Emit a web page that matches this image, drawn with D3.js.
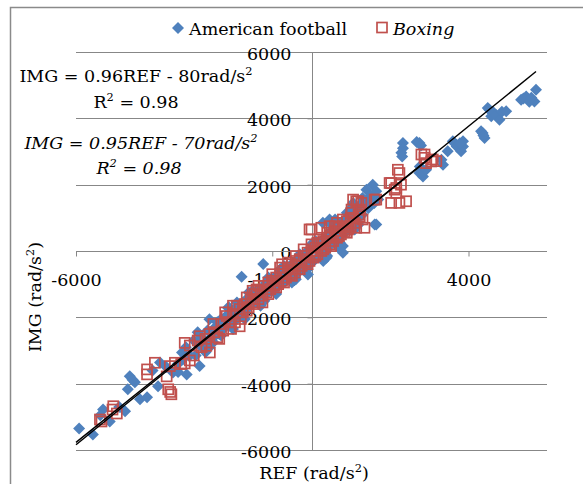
<!DOCTYPE html>
<html>
<head>
<meta charset="utf-8">
<script src="https://cdn.jsdelivr.net/npm/d3@7"></script>
<style>
  html, body { margin: 0; padding: 0; background: #fff; }
  svg { display: block; font-family: "DejaVu Serif", serif; }
</style>
</head>
<body>
<svg id="chart" width="583" height="484"></svg>
<script>
// Angular acceleration: reference sensor (REF) vs. image-based estimate (IMG)
const footballRef = [
  -5920, -5570, -5310, -5140, -5380, -4750, -4900, -4630, -4500, -4680, -4370, -4190, -3910, -3860, -3530, -3300, -3180, -3280, -4560, -4050, -3700, -3400, -3100,
  -3000, -2950, -2900, -2850, -2800, -2760, -2700, -2650, -2600, -2560, -2500, -2450, -2400, -2350, -2300, -2250, -2200, -2170, -2130, -2100, -2050, -2000,
  -1950, -1900, -1850, -1800, -1780, -1750, -1700, -1650, -1600, -1550, -1500, -1450, -1400, -1350, -1300, -1250, -1230, -1200, -1150, -1100, -1050, -1000,
  -950, -900, -850, -800, -750, -700, -650, -600, -550, -500, -450, -400, -350, -300, -250, -200, -150, -100, -90, -50, 0, 50, 100, 150, 200, 250, 290, 300,
  350, 380, 400, 450, 460, 500, 550, 600, 650, 700, 720, 750, 800, 800, 850, 900, 950, 1000, 1050, 1060, 1100, 1150, 1200, 1250, 1300, 1350, 1400, 1450,
  1500, 1560, 1610, 1650, 1600, 1650, 1700,
  -2900, -2700, -2500, -2300, -2100, -1900, -1700, -1500, -1300, -1100, -900, -700, -500, -300, -100, 100, 300, 500, 700, 900, 1100, 1300,
  -3200, -3400, -2600, -2000, -1600, -1200, -800, -400, 0, 400, 600, 800, 1000, 1200,
  2290, 2330, 2330, 2310, 2680, 2750, 2790, 2760, 2800, 2840, 2750, 2920, 3350, 3310, 3470, 3600, 3640, 3700, 3810, 3860, 3860, 3780,
  4320, 4360, 4410, 4380, 4490, 4530, 4580, 4620, 4700, 4790, 4850, 4960, 5340, 5470, 5400, 5720, 5680, 5550, 5600
];
const footballImg = [
  -5350, -5530, -4780, -5140, -4950, -4830, -4700, -3780, -3960, -4170, -4470, -4410, -4080, -3360, -3660, -3060, -3720, -3270, -3880, -3600, -3500, -3400, -3150,
  -2700, -3150, -2800, -3470, -2600, -2950, -2750, -2400, -2060, -2700, -2350, -2550, -2150, -2500, -2050, -2350, -2000, -1960, -1710, -2250, -1850, -2100,
  -1750, -2050, -1650, -1900, -780, -1550, -1850, -1450, -1700, -1350, -1600, -1250, -1500, -1150, -1450, -1100, -390, -1300, -950, -1250, -900, -1150,
  -800, -1100, -700, -1000, -600, -950, -500, -850, -450, -800, -350, -700, -250, -600, -150, -500, -50, -400, -710, 0, -350, 100, -250, 200, -150, 300, 850, -50,
  400, -200, 50, 550, 950, 200, 650, 300, 700, 400, 250, 850, 150, 550, 950, 600, 1050, 750, 1350, 1450, 900, 1250, 1000, 1400, 1100, 1500, 1850, 1300,
  1650, 2000, 800, 800, 1450, 1800, 1550,
  -2450, -3050, -2750, -2550, -1700, -1550, -2050, -1200, -1650, -800, -1300, -450, -950, -100, -550, 300, -300, 800, 100, 1150, 650, 1600,
  -2900, -3650, -2900, -2350, -1250, -1500, -550, -850, 200, -150, 950, -50, 1250, 800,
  2960, 3260, 3100, 2850, 3290, 3260, 3180, 2550, 2450, 2250, 2350, 2450, 2600, 2750, 3010, 3310, 3260, 3150, 3010, 3310, 3150, 3250,
  3610, 3560, 3410, 3480, 4310, 4260, 4060, 4200, 4100, 3960, 4200, 4210, 4560, 4660, 4600, 4860, 4510, 4500, 4620
];
const boxingRef = [
  -5390, -5350, -5050, -4960, -5070, -4190, -4190, -3990, -3610, -3690, -3480, -3650, -3570, -3600, -3230, -3320, -3230, -3100, -3000,
  -2850, -2800, -2680, -2590, -2700, -2600, -2480, -2400, -2300, -2250, -2160, -2100, -2000, -1950, -1830, -1830, -1750, -1700, -1650, -1600,
  -1550, -1500, -1450, -1400, -1350, -1300, -1250, -1200, -1150, -1100, -1050, -1000, -950, -900, -850, -800, -750, -700, -650, -600, -550,
  -500, -470, -420, -400, -350, -300, -250, -200, -150, -100, -50, 0, 50, 100, 150, 200, 250, 300, 350, 400, 450, 500, 550, 600, 650, 700,
  750, 800, 850, 900, 950, 1000, 1100,
  -2500, -2350, -2200, -2050, -1900, -1800, -1650, -1500, -1350, -1250, -1100, -1000, -900, -800, -700, -600, -500, -400, -300, -200, -100,
  0, 100, 200, 300, 400, 500, 600, 700, 800, 900, 1000, 1200, 1300, -2900, -3100, -2000, -1450, -750, 150, 650,
  -50, 0, 250, 460, 930, 1140, 1350, 1015, 1140, 1270, 1610, 1650, 1060, 1190, 1020, 1230, 1060, 1230,
  1990, 2120, 2160, 2030, 2240, 2410, 2200, 2240, 2030, 2160, 2280, 2800, 2880, 2880, 3090, 3180, 2920, 3050
];
const boxingImg = [
  -5080, -5140, -4680, -4900, -4780, -3570, -3720, -3370, -3470, -3780, -3370, -4170, -4320, -4250, -2770, -3410, -3390, -3300, -3150,
  -2570, -2900, -2860, -3060, -2650, -2500, -2450, -2600, -2200, -2400, -1960, -2150, -1900, -2150, -2270, -1750, -1850, -1600, -1400, -1700,
  -1450, -1550, -1300, -1160, -1450, -1200, -1350, -1050, -1250, -950, -1150, -900, -1050, -800, -1000, -700, -900, -600, -800, -500, -700,
  -400, -560, -650, -300, -550, -250, -450, -150, -350, -50, -300, 0, -200, 100, -100, 200, 0, 300, 100, 400, 200, 500, 300, 600, 400, 700,
  500, 750, 600, 900, 700, 1000, 850,
  -2200, -2650, -1850, -2350, -1650, -2050, -1800, -1200, -1050, -1550, -1300, -700, -1100, -500, -950, -350, -750, -150, -550, 50, -400,
  200, -150, 350, 50, 550, 150, 750, 450, 950, 550, 750, 1100, 950, -2700, -2850, -1650, -1600, -400, 250, 850,
  650, 650, 700, 750, 650, 700, 700, 1150, 1500, 1450, 1550, 1550, 1550, 1500, 1250, 1250, 1000, 1050,
  2050, 1850, 1750, 1450, 1450, 1500, 2450, 2350, 2050, 1900, 2000, 2910, 2810, 2910, 2760, 2710, 2650, 2700
];

// Linear fits (slope, intercept) printed on the chart
const footballFit = { slope: 0.96, intercept: -80, r2: 0.98 };
const boxingFit = { slope: 0.95, intercept: -70, r2: 0.98 };

const xTicks = [-6000, -1000, 4000];
const yTicks = [-6000, -4000, -2000, 0, 2000, 4000, 6000];

const football = footballRef.map((r, i) => ({ ref: r, img: footballImg[i] }));
const boxing = boxingRef.map((r, i) => ({ ref: r, img: boxingImg[i] }));

const svg = d3.select("#chart");
const FS = 17.5;
const gridColor = "#878787";
const blue = "#4F81BD";
const red = "#C0504D";

const x = d3.scaleLinear().domain([-6000, 6000]).range([76, 547]);
const y = d3.scaleLinear().domain([-6000, 6000]).range([450, 52]);

// chart frame
svg.append("rect")
  .attr("x", 10.5).attr("y", 7.5)
  .attr("width", 620).attr("height", 520)
  .attr("fill", "none").attr("stroke", "#8a8a8a").attr("stroke-width", 1.5);

// horizontal gridlines
svg.append("g").selectAll("line").data(yTicks).join("line")
  .attr("x1", x(-6000)).attr("x2", x(6000))
  .attr("y1", d => Math.round(y(d)) + 0.5).attr("y2", d => Math.round(y(d)) + 0.5)
  .attr("stroke", gridColor).attr("stroke-width", 1);

const plainFormat = d => String(d);

// vertical axis through REF = 0
const yAxis = d3.axisLeft(y).tickValues(yTicks).tickSize(5).tickPadding(16).tickFormat(plainFormat);
const gy = svg.append("g").attr("transform", `translate(${Math.round(x(0)) + 0.5},0)`).call(yAxis);
gy.select(".domain").attr("stroke", gridColor).attr("d", `M0,${y(6000)}V${y(-6000)}`);
gy.selectAll(".tick line").attr("stroke", gridColor);
gy.selectAll(".tick text")
  .attr("font-family", "DejaVu Serif").attr("font-size", FS).attr("fill", "#000")
  .attr("dy", "0.42em");

// horizontal axis through IMG = 0
const xAxis = d3.axisBottom(x).tickValues(xTicks).tickSize(5).tickPadding(17).tickFormat(plainFormat);
const gx = svg.append("g").attr("transform", `translate(0,${Math.round(y(0)) + 0.5})`).call(xAxis);
gx.select(".domain").attr("stroke", gridColor).attr("d", `M${x(-6000)},0H${x(6000)}`);
gx.selectAll(".tick line").attr("stroke", gridColor);
gx.selectAll(".tick text")
  .attr("font-family", "DejaVu Serif").attr("font-size", FS).attr("fill", "#000");

// markers
const diamond = "M0,-6L6,0L0,6L-6,0Z";
svg.append("g").selectAll("path").data(football).join("path")
  .attr("d", diamond)
  .attr("transform", d => `translate(${x(d.ref)},${y(d.img)})`)
  .attr("fill", blue);

const sq = 10;
svg.append("g").selectAll("rect").data(boxing).join("rect")
  .attr("x", d => x(d.ref) - sq / 2).attr("y", d => y(d.img) - sq / 2)
  .attr("width", sq).attr("height", sq)
  .attr("fill", "none").attr("stroke", red).attr("stroke-width", 1.7);

// trendlines
const line = d3.line().x(d => x(d[0])).y(d => y(d[1]));
function fitPoints(fit, x0, x1) {
  return [[x0, fit.slope * x0 + fit.intercept], [x1, fit.slope * x1 + fit.intercept]];
}
svg.append("path")
  .attr("d", line(fitPoints(footballFit, -6000, d3.max(footballRef))))
  .attr("fill", "none").attr("stroke", "#000").attr("stroke-width", 1.4);
svg.append("path")
  .attr("d", line(fitPoints(boxingFit, -6000, d3.max(boxingRef))))
  .attr("fill", "none").attr("stroke", "#000").attr("stroke-width", 1.4);

// text runs, some of them raised as a small superscript
function supText(sel, parts) {
  let lift = 0;
  parts.forEach(p => {
    const ts = sel.append("tspan").text(p.t);
    if (p.sup) {
      ts.attr("font-size", FS * 0.65).attr("dy", -7);
      lift = 7;
    } else {
      ts.attr("font-size", FS);
      if (lift) { ts.attr("dy", lift); lift = 0; }
    }
  });
}

// fit equations
const eq1 = svg.append("text").attr("x", 136).attr("y", 82).attr("text-anchor", "middle").attr("font-size", FS);
supText(eq1, [{ t: `IMG = ${footballFit.slope}REF - ${-footballFit.intercept}rad/s` }, { t: "2", sup: true }]);
const r1 = svg.append("text").attr("x", 136).attr("y", 108).attr("text-anchor", "middle").attr("font-size", FS);
supText(r1, [{ t: "R" }, { t: "2", sup: true }, { t: ` = ${footballFit.r2}` }]);

const eq2 = svg.append("text").attr("x", 141).attr("y", 149).attr("text-anchor", "middle").attr("font-size", FS).attr("font-style", "italic");
supText(eq2, [{ t: `IMG = ${boxingFit.slope}REF - ${-boxingFit.intercept}rad/s` }, { t: "2", sup: true }]);
const r2 = svg.append("text").attr("x", 139).attr("y", 174).attr("text-anchor", "middle").attr("font-size", FS).attr("font-style", "italic");
supText(r2, [{ t: "R" }, { t: "2", sup: true }, { t: ` = ${boxingFit.r2}` }]);

// axis titles
const xt = svg.append("text").attr("x", 314).attr("y", 479).attr("text-anchor", "middle").attr("font-size", FS);
supText(xt, [{ t: "REF (rad/s" }, { t: "2", sup: true }, { t: ")" }]);
const yt = svg.append("text").attr("transform", "translate(41,297) rotate(-90)").attr("text-anchor", "middle").attr("font-size", FS);
supText(yt, [{ t: "IMG (rad/s" }, { t: "2", sup: true }, { t: ")" }]);

// legend
const legend = svg.append("g");
legend.append("path").attr("d", diamond).attr("transform", "translate(178,28)").attr("fill", blue);
legend.append("text").attr("x", 189).attr("y", 34.5).attr("font-size", FS).text("American football");
legend.append("rect").attr("x", 377).attr("y", 22.5).attr("width", sq).attr("height", sq)
  .attr("fill", "none").attr("stroke", red).attr("stroke-width", 1.7);
legend.append("text").attr("x", 393).attr("y", 34.5).attr("font-size", FS).attr("font-style", "italic").text("Boxing");
</script>
</body>
</html>
